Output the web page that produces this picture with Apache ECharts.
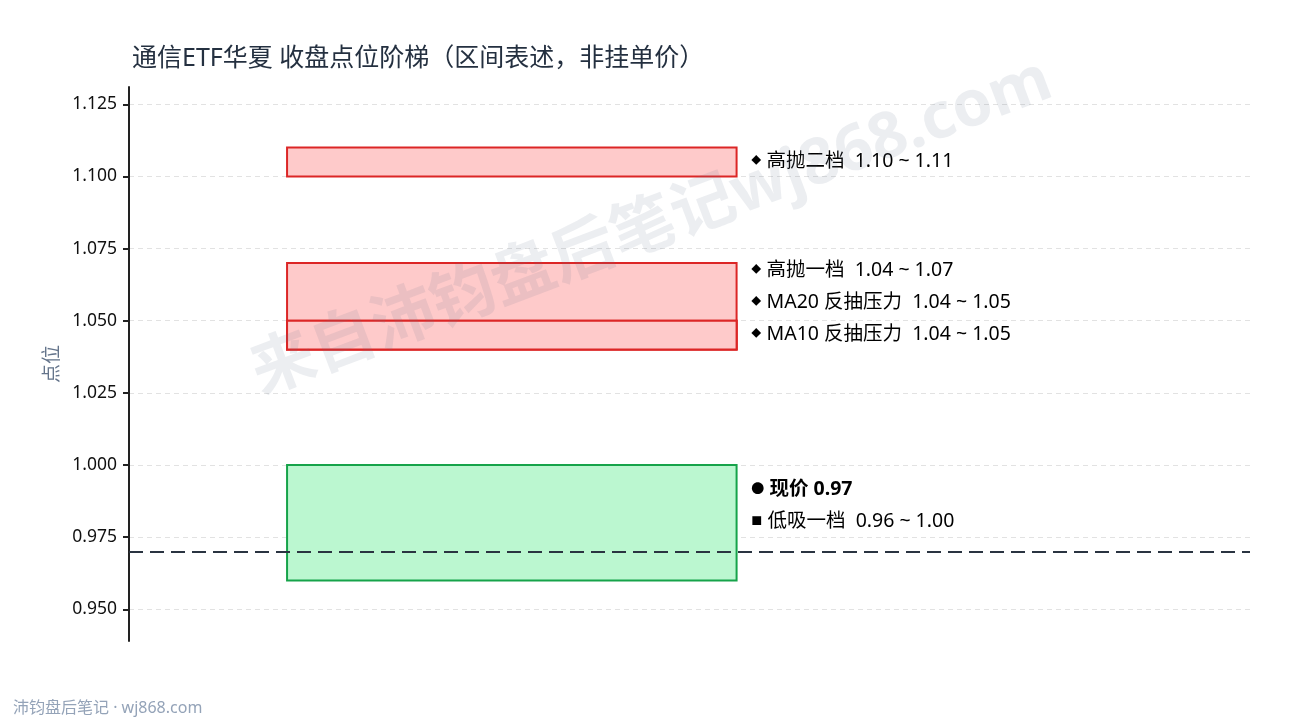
<!DOCTYPE html>
<html>
<head>
<meta charset="utf-8">
<script src="https://cdn.jsdelivr.net/npm/echarts@6/dist/echarts.min.js"></script>
<style>
  html, body { margin: 0; padding: 0; background: #fff; }
  #chart { width: 1290px; height: 720px; }
</style>
</head>
<body>
<div id="chart"></div>
<script>
// 区间数据
const bandNames = ['高抛二档', '高抛一档', 'MA20 反抽压力', 'MA10 反抽压力', '低吸一档'];
const bandLow   = [1.10, 1.04, 1.04, 1.04, 0.96];
const bandHigh  = [1.11, 1.07, 1.05, 1.05, 1.00];
const bandKind  = ['sell', 'sell', 'sell', 'sell', 'buy'];
const lastPrice = 0.97;
const yTicks = [0.950, 0.975, 1.000, 1.025, 1.050, 1.075, 1.100, 1.125];

const FONT = '"Noto Sans", "Noto Sans CJK SC", sans-serif';
const BOX_X = [0.141, 0.542];
const LABEL_X = 0.555;

const palette = {
  sell: { fill: '#fecaca', stroke: '#dc2626' },
  buy:  { fill: '#bbf7d0', stroke: '#16a34a' }
};

const boxData = bandNames.map((n, i) => [i, bandLow[i], bandHigh[i]]);

// 标签：按顺序从下往上避让
const labelItems = [];
bandNames.forEach((n, i) => {
  const rng = bandLow[i].toFixed(2) + ' ~ ' + bandHigh[i].toFixed(2);
  if (bandKind[i] === 'buy') {
    labelItems.push({ text: '{b|●} {tb|现价 ' + lastPrice.toFixed(2) + '}', v: lastPrice });
    labelItems.push({ text: '{s|■} {t|' + n + '  ' + rng + '}', v: (bandLow[i] + bandHigh[i]) / 2 });
  } else {
    labelItems.push({ text: '{d|◆} {t|' + n + '  ' + rng + '}', v: (bandLow[i] + bandHigh[i]) / 2 });
  }
});

const TXT = '#243040';
const rich = {
  d:  { fontSize: 10, color: TXT, fontFamily: FONT, padding: [0, 2, 0, 0] },
  s:  { fontSize: 11, color: TXT, fontFamily: FONT, padding: [0, 2, 0, 0] },
  b:  { fontSize: 13, color: TXT, fontFamily: FONT, padding: [0, 2, 0, 0] },
  t:  { fontSize: 19.5, color: TXT, fontFamily: FONT },
  tb: { fontSize: 19.5, color: TXT, fontWeight: 'bold', fontFamily: FONT }
};

const myChart = echarts.init(document.getElementById('chart'));

const option = {
  backgroundColor: '#fff',
  animation: false,
  title: {
    text: '通信ETF华夏 收盘点位阶梯（区间表述，非挂单价）',
    left: 127,
    top: 41,
    textStyle: { fontSize: 25, fontWeight: 'normal', color: TXT, fontFamily: FONT }
  },
  grid: { left: 129, right: 40, top: 87, bottom: 79 },
  xAxis: { type: 'value', min: 0, max: 1, show: false },
  yAxis: {
    type: 'value',
    min: 0.939,
    max: 1.131,
    name: '点位',
    nameLocation: 'middle',
    nameGap: 67,
    nameMoveOverlap: false,
    nameTextStyle: { fontSize: 19, color: '#64748b', fontFamily: FONT },
    axisLine: { show: true, lineStyle: { color: '#222', width: 2 } },
    axisTick: { show: true, length: 6, lineStyle: { color: '#222', width: 2 }, customValues: yTicks },
    axisLabel: {
      customValues: yTicks,
      fontSize: 17.5, color: '#111', fontFamily: FONT, margin: 12,
      formatter: v => v.toFixed(3)
    },
    splitLine: { show: true, lineStyle: { color: '#e2e2e2', type: [5, 4] } }
  },
  series: [
    {
      type: 'custom',
      data: boxData,
      renderItem: (params, api) => {
        const i = api.value(0);
        const p1 = api.coord([BOX_X[0], api.value(2)]);
        const p2 = api.coord([BOX_X[1], api.value(1)]);
        const c = palette[bandKind[i]];
        return {
          type: 'rect',
          shape: { x: p1[0], y: p1[1], width: p2[0] - p1[0], height: p2[1] - p1[1] },
          style: { fill: c.fill, stroke: c.stroke, lineWidth: 2 }
        };
      },
      markLine: {
        silent: true,
        symbol: 'none',
        label: { show: false },
        lineStyle: { color: '#2a3441', width: 2, type: [14, 7] },
        data: [{ yAxis: lastPrice }]
      },
      z: 2
    },
    {
      type: 'custom',
      data: [[0]],
      renderItem: (params, api) => {
        const ys = labelItems.map(it => api.coord([LABEL_X, it.v])[1]);
        const gap = 32;
        for (let k = ys.length - 2; k >= 0; k--) {
          ys[k] = Math.min(ys[k], ys[k + 1] - gap);
        }
        const x = api.coord([LABEL_X, 1])[0];
        return {
          type: 'group',
          children: labelItems.map((it, k) => ({
            type: 'text',
            x: x,
            y: ys[k] - 1,
            style: { text: it.text, rich: rich, verticalAlign: 'middle', align: 'left' }
          }))
        };
      },
      z: 3
    }
  ],
  graphic: [
    {
      type: 'text',
      x: 652,
      y: 228,
      rotation: 0.36,
      z: 100,
      silent: true,
      style: {
        text: '来自沛钧盘后笔记wj868.com',
        fontSize: 64,
        fontWeight: 'bold',
        fontFamily: FONT,
        fill: 'rgba(100,116,139,0.12)',
        align: 'center',
        verticalAlign: 'middle'
      }
    },
    {
      type: 'text',
      left: 13,
      bottom: 4,
      style: {
        text: '沛钧盘后笔记 · wj868.com',
        fontSize: 16,
        fontFamily: FONT,
        fill: '#94a3b8'
      }
    }
  ]
};

myChart.setOption(option);
</script>
</body>
</html>
